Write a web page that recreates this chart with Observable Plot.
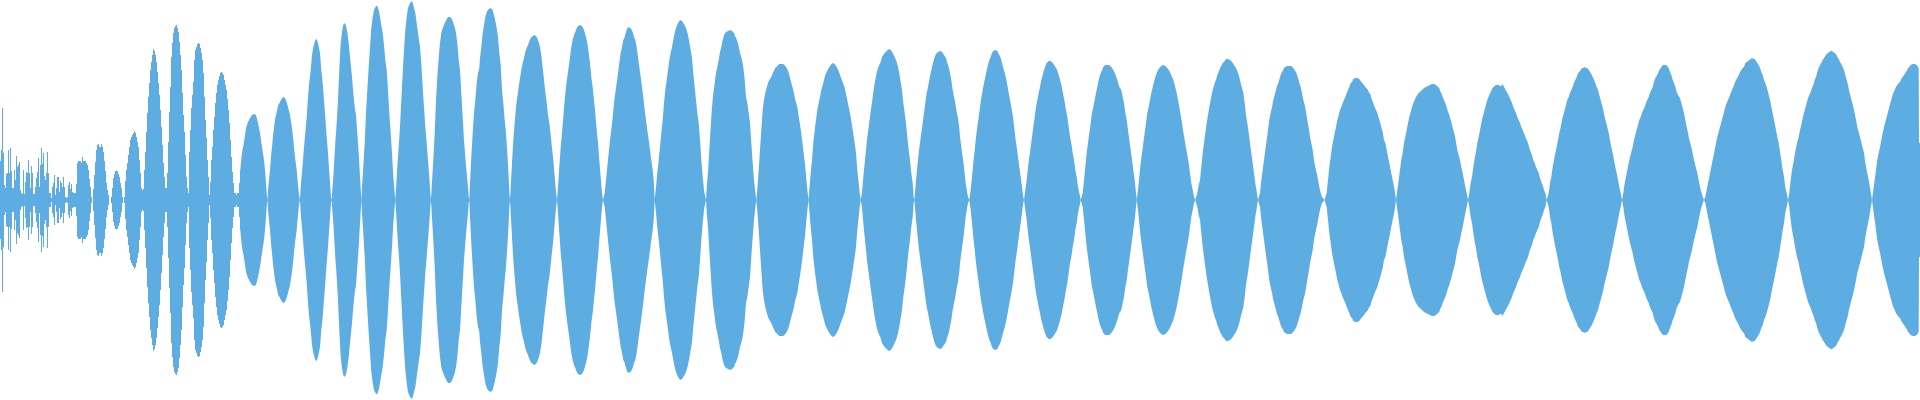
<!DOCTYPE html>
<html><head><meta charset="utf-8">
<script src="https://cdn.jsdelivr.net/npm/d3@7"></script>
<script src="https://cdn.jsdelivr.net/npm/@observablehq/plot@0.6"></script>
<style>html,body{margin:0;padding:0;background:#fff;overflow:hidden}#chart svg{display:block}</style>
</head><body><div id="chart"></div>
<script>
// per-column peak amplitude (units: 1/200 of full scale) for the first 240 samples
const noiseAmp = [
39,50,92,47,15,12,26,27,50,27, 52,29,12,12,30,20,44,33,35,38,
10,7,6,30,6,18,28,27,40,27, 12,34,27,6,6,13,22,28,42,13,
35,52,36,47,24,20,27,48,27,7, 7,2,13,17,25,5,12,23,23,8,
19,17,13,23,13,3,2,3,15,18, 11,16,8,7,7,7,16,37,39,39,
39,37,43,39,39,39,37,35,30,21, 13,3,0,11,25,38,50,55,56,53,
53,56,53,48,39,29,17,10,5,0, 0,3,12,22,26,29,29,29,26,23,
17,12,3,0,3,19,30,37,45,53, 60,63,65,67,69,67,63,58,53,40,
27,12,10,11,30,48,68,87,103,117, 130,138,145,151,149,145,138,128,117,105,
90,73,55,37,23,12,12,27,58,88, 113,143,157,167,172,174,175,172,168,158,
145,130,107,85,68,45,23,12,7,48, 70,92,105,118,140,150,153,156,157,156,
152,147,140,127,103,80,62,40,23,5, 18,40,53,70,83,97,107,115,120,124,
127,128,127,125,120,115,110,101,90,77, 60,43,28,17,7,7,5,7,7,17
];

// envelope of the remaining samples: [sample position, peak amplitude]
const envelope = [
[240,28],[242,47],[244,58],[246,72],[248,78],[250,82],[252,85],[254,86],[256,85],[258,77],[260,67],[262,53],[264,40],[265.3,27],[266.3,13],[267,3],[267.5,0],
[268,10],[269,20],[270,30],[271,43],[272,53],[273.3,67],[275,80],[276.7,88],[278.3,95],[280,98],[282,102],[284,103],[286,100],[288,93],[290,85],[292,72],[293.3,60],[295,43],[296.7,30],[298,15],[299,5],[300,0],
[300.7,13],[302,28],[303,40],[304,53],[305.3,67],[306.7,83],[308,103],[309.3,118],[310.7,130],[312,145],[313.3,153],[315.3,160],[316.7,161],[318,157],[320,147],[321.3,130],[322.7,117],[324,100],[325.3,83],[326.7,63],[328,47],[329.3,27],[330.3,13],[331,3],[331.7,0],
[332.3,10],[333.3,23],[334.3,40],[335.3,57],[336.7,77],[338,100],[339.3,130],[340.7,157],[342,168],[343.3,175],[344.7,177],[346,174],[347.3,168],[348.7,157],[350,143],[352,123],[353.3,107],[354.7,93],[356,85],[357.3,67],[358.7,47],[360,23],[361,7],[361.7,0],
[362,13],[363.3,33],[364.7,57],[366,87],[367.3,110],[368.7,133],[370,153],[371.3,172],[372.7,183],[374,190],[376,194],[377.3,194],[378.7,190],[380,183],[381.3,175],[382.7,167],[384,155],[385.3,140],[386.7,130],[388,110],[389.3,87],[390.7,67],[392,47],[393.3,23],[394.7,7],[395.3,0],
[396,10],[397.3,33],[398.7,53],[400,73],[401.3,100],[402.7,127],[404,150],[405.3,170],[406.7,183],[408,192],[410,197],[412,199],[413.3,195],[415.3,187],[416.7,177],[418,167],[420,153],[421.3,137],[422.7,113],[424,93],[425.3,73],[426.7,57],[428,40],[429.3,23],[430.3,7],[431,0],
[431.7,13],[433.3,40],[434.7,67],[436,100],[437.3,123],[438.7,142],[440,157],[441.3,167],[442.7,172],[444,175],[445.3,178],[446.7,181],[448,183],[450,183],[452,181],[453.3,177],[454.7,173],[456,167],[457.3,157],[458.7,140],[460,130],[461.3,107],[462.7,83],[464,60],[465.3,43],[466.7,27],[468,13],[468.7,3],[469.3,0],
[470,17],[471.3,43],[472.7,67],[474,87],[475.3,100],[476.7,117],[478,127],[479.3,132],[480,142],[481.3,153],[482.7,167],[484,175],[485.3,183],[486.7,188],[488.7,191],[490.7,192],[492.7,190],[494.7,182],[496.7,172],[498,163],[499.3,147],[500.7,135],[502,110],[503.3,97],[504.7,80],[506,67],[507.3,47],[508.7,23],[509.3,7],[510,0],
[510.7,13],[512,37],[513.3,60],[514.7,77],[516,93],[517.3,103],[518.7,113],[520,122],[521.3,130],[522.7,137],[524,142],[525.3,148],[526.7,152],[528.7,157],[530.7,162],[532.7,164],[534.7,165],[536.7,163],[538.7,158],[540,153],[541.3,145],[542.7,133],[544,120],[545.3,108],[546.7,97],[548,85],[549.3,77],[550.7,65],[552,52],[553.3,40],[554.7,23],[556,8],[557,0],
[558,13],[559.3,33],[560.7,53],[562,67],[563.3,83],[564.7,100],[566,113],[567.3,123],[568.7,133],[570,143],[571.3,153],[572.7,160],[574,165],[575.3,168],[576.7,172],[578,174],[580,175],[582,174],[584,170],[586,163],[587.3,157],[588.7,147],[590,137],[591.3,123],[592.7,113],[594,100],[595.3,87],[596.7,70],[598,57],[599.3,40],[600.7,23],[602,7],[603,0],
[604.7,7],[606,20],[607.3,33],[608.7,47],[610,60],[611.3,70],[612.7,83],[614,97],[615.3,107],[616.7,117],[618,127],[619.3,137],[620.7,147],[622,153],[623.3,160],[624.7,163],[626,168],[627.3,172],[628.7,173],[630,172],[631.3,171],[632.7,168],[634,163],[635.3,160],[636.7,153],[638,143],[639.3,133],[640.7,123],[642,113],[643.3,103],[644.7,90],[646,80],[647.3,70],[648.7,60],[650,50],[651.3,40],[652.7,30],[653.7,20],[654.7,0],
[656,13],[657.3,27],[658.7,40],[660,53],[661.3,67],[662.7,80],[664,97],[665.3,110],[666.7,120],[668,130],[669.3,140],[670.7,147],[672,153],[673.3,160],[674.7,167],[676,172],[678,177],[680,180],[682,179],[684,176],[686,172],[688,165],[689.3,158],[690.7,150],[692,142],[693.3,127],[694.7,113],[696,100],[697.3,87],[698.7,77],[700,60],[701.3,40],[702.7,23],[704,10],[705.3,3],[706,0],
[706.7,13],[708,27],[709.3,50],[710.7,73],[712,93],[713.3,107],[714.7,117],[716,127],[717.3,133],[718.7,140],[720,148],[721.3,153],[722.7,160],[724,165],[726,168],[728,169],[730,170],[732,169],[734,167],[736,162],[738,157],[740,147],[742,140],[743.3,133],[744.7,120],[746,103],[747.3,97],[748.7,87],[750,77],[751.3,57],[752.7,37],[754,20],[755.3,8],[756.3,0],
[757.3,10],[758.7,30],[760,50],[761.3,70],[762.7,90],[764,100],[765.3,107],[766.7,112],[768,117],[769.3,120],[770.7,122],[772,125],[773.3,128],[775.3,132],[777.3,134],[779.3,136],[781.3,136],[783.3,136],[785.3,134],[787.3,131],[789.3,125],[791.3,117],[793.3,110],[795.3,100],[797.3,93],[799.3,80],[801.3,67],[803.3,50],[805.3,33],[806.7,17],[807.7,7],[808.7,0],
[809.3,10],[810.7,27],[812,40],[813.3,57],[814.7,70],[816,80],[817.3,90],[818.7,97],[820,103],[821.3,110],[822.7,115],[824,120],[825.3,125],[826.7,128],[828.7,132],[830.7,135],[832.7,137],[834.7,136],[836.7,133],[838.7,129],[840.7,123],[842.7,118],[844.7,112],[846.7,103],[848.7,93],[850.7,83],[852.7,70],[854.7,57],[856,47],[857.3,30],[858.7,17],[859.7,7],[860.7,0],
[862,7],[863.3,23],[864.7,37],[866,50],[867.3,63],[868.7,73],[870,83],[871.3,93],[872.7,103],[874,113],[875.3,120],[876.7,127],[878,132],[879.3,135],[880.7,138],[882,143],[883.3,145],[884.7,147],[886.7,149],[888.7,151],[890.7,150],[892.7,147],[894.7,143],[896.7,138],[898,133],[899.3,127],[900.7,118],[902,110],[903.3,97],[904.7,87],[906,77],[907.3,63],[908.7,50],[910,40],[911.3,27],[912.7,17],[913.7,3],[914.3,0],
[915,7],[916,20],[917.3,33],[918.7,47],[920,57],[921.3,67],[922.7,77],[924,87],[925.3,97],[926.7,107],[928,113],[929.3,120],[930.7,127],[932,133],[933.3,138],[934.7,143],[936,146],[938,148],[940,149],[942,148],[944,145],[946,142],[947.3,137],[948.7,133],[950,127],[951.3,120],[952.7,110],[954,103],[955.3,97],[956.7,88],[958,82],[959.3,72],[960,63],[961.3,53],[962.7,43],[964,33],[965.3,20],[966.7,10],[968,3],[969.3,0],
[970.7,10],[972,23],[973.3,37],[974.7,50],[976,63],[977.3,73],[978.7,83],[980,93],[981.3,102],[982.7,110],[984,117],[985.3,123],[986.7,130],[988,135],[989.3,140],[990.7,143],[992,147],[993.3,149],[995.3,150],[997.3,149],[999.3,145],[1000.7,142],[1002,137],[1003.3,132],[1004.7,127],[1006,122],[1007.3,115],[1008.7,107],[1010,100],[1011.3,93],[1012.7,85],[1014,75],[1015.3,63],[1016.7,53],[1018,43],[1019.3,33],[1020.7,23],[1022,13],[1023.3,3],[1024,0],
[1025.3,10],[1026.7,20],[1028,33],[1029.3,43],[1030.7,53],[1032,63],[1033.3,73],[1034.7,83],[1036,93],[1037.3,100],[1038.7,107],[1040,113],[1041.3,120],[1042.7,125],[1044,130],[1045.3,134],[1046.7,137],[1048.7,139],[1050.7,139],[1052.7,137],[1054.7,134],[1056.7,131],[1058.7,125],[1060.7,118],[1062,112],[1063.3,105],[1064.7,98],[1066,90],[1067.3,83],[1068.7,73],[1070,63],[1071.3,57],[1072.7,47],[1074,40],[1075.3,30],[1076.7,23],[1078,13],[1079.3,7],[1080.7,0],
[1082.7,7],[1084,20],[1085.3,33],[1086.7,47],[1088,57],[1089.3,67],[1090.7,77],[1092,87],[1093.3,93],[1094.7,100],[1096,107],[1097.3,113],[1098.7,120],[1100,125],[1101.3,128],[1103.3,133],[1105.3,135],[1107.3,135],[1109.3,135],[1111.3,133],[1113.3,130],[1115.3,126],[1117.3,120],[1119.3,113],[1121.3,110],[1122.7,103],[1124,97],[1125.3,87],[1126.7,80],[1128,70],[1129.3,60],[1130.7,50],[1132,40],[1133.3,30],[1134.7,20],[1136,7],[1136.7,0],
[1138,10],[1139.3,23],[1140.7,37],[1142,47],[1143.3,57],[1144.7,67],[1146,77],[1147.3,87],[1148.7,93],[1150,100],[1151.3,107],[1152.7,113],[1154,118],[1155.3,123],[1156.7,127],[1158,130],[1159.3,132],[1161.3,134],[1163.3,135],[1165.3,134],[1167.3,132],[1169.3,129],[1171.3,125],[1173.3,120],[1175.3,113],[1176.7,107],[1178,100],[1179.3,93],[1180.7,85],[1182,77],[1183.3,68],[1184.7,60],[1186,52],[1187.3,45],[1188.7,37],[1190,27],[1191.3,17],[1192.7,10],[1194,3],[1195.3,0],
[1197.3,7],[1198.7,15],[1200,20],[1201.3,33],[1202.7,47],[1204,57],[1205.3,67],[1206.7,77],[1208,85],[1209.3,93],[1210.7,100],[1212,107],[1213.3,112],[1214.7,117],[1216,120],[1217.3,125],[1218.7,128],[1220,132],[1221.3,134],[1222.7,137],[1224,138],[1226,141],[1228,141],[1230,140],[1232,138],[1234,135],[1236,132],[1238,127],[1239.3,123],[1240.7,117],[1242,112],[1243.3,107],[1244.7,97],[1246,85],[1247.3,77],[1248.7,67],[1250,57],[1251.3,47],[1252.7,37],[1254,27],[1255.3,17],[1256.7,8],[1258,0],
[1260,7],[1261.3,20],[1262.7,30],[1264,40],[1265.3,50],[1266.7,60],[1268,70],[1269.3,80],[1270.7,87],[1272,93],[1273.3,100],[1274.7,105],[1276,110],[1277.3,115],[1278.7,118],[1280,123],[1281.3,127],[1282.7,129],[1284,132],[1285.3,133],[1287.3,134],[1289.3,134],[1291.3,134],[1293.3,132],[1295.3,129],[1296.7,126],[1298,122],[1299.3,117],[1300.7,113],[1302,107],[1303.3,100],[1304.7,95],[1306,88],[1307.3,80],[1308.7,72],[1310,63],[1311.3,57],[1312.7,50],[1314,40],[1315.3,33],[1316.7,27],[1318,20],[1319.3,13],[1320.7,7],[1322,3],[1324.5,0],
[1326.7,7],[1328,20],[1329.3,33],[1330.7,43],[1332,53],[1333.3,60],[1334.7,67],[1336,73],[1337.3,80],[1338.7,85],[1340,90],[1341.3,93],[1342.7,97],[1344,100],[1345.3,103],[1346.7,107],[1348,110],[1349.3,113],[1350.7,117],[1352,118],[1353.3,121],[1355.3,122],[1357.3,122],[1359.3,121],[1361.3,118],[1363.3,116],[1365.3,113],[1367.3,111],[1369.3,107],[1370.7,105],[1372,100],[1373.3,97],[1374.7,93],[1376,90],[1377.3,87],[1378.7,82],[1380,78],[1381.3,73],[1382.7,68],[1384,60],[1385.3,57],[1386.7,50],[1388,43],[1389.3,37],[1390.7,30],[1392,23],[1393.3,17],[1394.7,10],[1396,0],
[1397.3,10],[1398.7,20],[1400,30],[1401.3,40],[1402.7,47],[1404,57],[1405.3,63],[1406.7,70],[1408,77],[1409.3,83],[1410.7,88],[1412,93],[1413.3,97],[1414.7,100],[1416,103],[1417.3,105],[1418.7,107],[1420,108],[1422,110],[1424,112],[1426,113],[1428,114],[1430,115],[1432,116],[1434,116],[1436,115],[1438,113],[1439.3,112],[1440,109],[1441.3,107],[1442.7,103],[1444,100],[1445.3,97],[1446.7,93],[1448,88],[1449.3,85],[1450.7,80],[1452,75],[1453.3,70],[1454.7,65],[1456,58],[1457.3,50],[1458.7,45],[1460,40],[1461.3,33],[1462.7,27],[1464,20],[1465.3,13],[1466.7,7],[1468,0],
[1469.3,7],[1470.7,17],[1472,23],[1473.3,33],[1474.7,42],[1476,48],[1477.3,57],[1478.7,63],[1480,70],[1481.3,77],[1482.7,83],[1484,88],[1485.3,93],[1486.7,98],[1488,102],[1489.3,105],[1490.7,108],[1492,111],[1493.3,113],[1494.7,114],[1496,115],[1497.3,115],[1498.7,115],[1500,114],[1501.3,114],[1502.7,116],[1504,113],[1505.3,111],[1506.7,108],[1508,106],[1509.3,103],[1510.7,100],[1512,97],[1513.3,93],[1514.7,90],[1516,87],[1517.3,83],[1518.7,80],[1520,77],[1521.3,73],[1522.7,70],[1524,67],[1525.3,63],[1526.7,60],[1528,57],[1529.3,52],[1530.7,48],[1532,45],[1533.3,40],[1534.7,37],[1536,33],[1537.3,30],[1538.7,27],[1540,22],[1541.3,18],[1542.7,15],[1544,10],[1545.3,7],[1546.7,0],
[1548.7,7],[1550,17],[1551.3,23],[1552.7,33],[1554,40],[1555.3,47],[1556.7,53],[1558,60],[1559.3,67],[1560.7,73],[1562,80],[1563.3,85],[1564.7,90],[1566,95],[1567.3,100],[1568.7,103],[1570,107],[1571.3,110],[1572.7,113],[1574,117],[1575.3,120],[1576.7,123],[1578,127],[1579.3,128],[1580.7,130],[1582,132],[1583.3,132],[1584.7,133],[1586,132],[1587.3,132],[1588.7,130],[1590,128],[1591.3,126],[1592.7,123],[1594,120],[1595.3,117],[1596.7,113],[1598,110],[1599.3,105],[1600.7,100],[1602,95],[1603.3,90],[1604.7,83],[1606,78],[1607.3,73],[1608.7,67],[1610,60],[1611.3,53],[1612.7,47],[1614,40],[1615.3,33],[1616.7,27],[1618,20],[1619.3,13],[1620.7,7],[1622,0],
[1623.3,7],[1624.7,17],[1626,23],[1627.3,30],[1628.7,37],[1630,43],[1631.3,48],[1632.7,53],[1634,60],[1635.3,65],[1636.7,70],[1638,75],[1639.3,80],[1640.7,83],[1642,87],[1643.3,90],[1644.7,93],[1646,97],[1647.3,100],[1648.7,103],[1650,107],[1651.3,110],[1652.7,113],[1654,118],[1655.3,122],[1656.7,124],[1658,127],[1659.3,130],[1660.7,132],[1662,134],[1663.3,135],[1664.7,135],[1666,135],[1667.3,134],[1668.7,132],[1670,128],[1671.3,125],[1672.7,120],[1674,117],[1675.3,113],[1676.7,108],[1678,105],[1679.3,103],[1680,102],[1681.3,97],[1682.7,92],[1684,87],[1685.3,80],[1686.7,73],[1688,67],[1689.3,60],[1690.7,55],[1692,50],[1693.3,43],[1694.7,37],[1696,32],[1697.3,27],[1698.7,20],[1700,13],[1701.3,8],[1702.7,3],[1704,0],
[1705.3,3],[1706.7,10],[1708,17],[1709.3,23],[1710.7,30],[1712,37],[1713.3,43],[1714.7,50],[1716,57],[1717.3,63],[1718.7,68],[1720,73],[1721.3,78],[1722.7,83],[1724,88],[1725.3,93],[1726.7,97],[1728,100],[1729.3,103],[1730.7,107],[1732,110],[1733.3,113],[1734.7,117],[1736,120],[1737.3,122],[1738.7,125],[1740,128],[1741.3,130],[1742.7,132],[1744,133],[1745.3,137],[1746.7,138],[1748,139],[1749.3,140],[1750.7,141],[1752,142],[1753.3,141],[1754.7,141],[1756,139],[1757.3,137],[1758.7,135],[1760,132],[1761.3,128],[1762.7,125],[1764,120],[1765.3,117],[1766.7,113],[1768,108],[1769.3,103],[1770.7,97],[1772,90],[1773.3,83],[1774.7,77],[1776,70],[1777.3,63],[1778.7,57],[1780,48],[1781.3,40],[1782.7,30],[1784,23],[1785.3,13],[1786.7,7],[1788,0],
[1789.3,7],[1790.7,20],[1792,30],[1793.3,37],[1794.7,45],[1796,52],[1797.3,58],[1798.7,63],[1800,70],[1801.3,75],[1802.7,82],[1804,87],[1805.3,92],[1806.7,97],[1808,102],[1809.3,105],[1810.7,108],[1812,112],[1813.3,115],[1814.7,120],[1816,123],[1817.3,128],[1818.7,132],[1820,135],[1821.3,137],[1822.7,140],[1824,142],[1825.3,144],[1826.7,146],[1828,147],[1829.3,148],[1830.7,149],[1832,149],[1833.3,148],[1834.7,147],[1836,146],[1837.3,143],[1838.7,141],[1840,138],[1841.3,136],[1842.7,133],[1844,130],[1845.3,125],[1846.7,120],[1848,115],[1849.3,108],[1850.7,103],[1852,98],[1853.3,93],[1854.7,87],[1856,80],[1857.3,73],[1858.7,68],[1860,63],[1861.3,58],[1862.7,52],[1864,47],[1865.3,37],[1866.7,30],[1868,23],[1869.3,17],[1870.7,8],[1872,0],
[1873.3,10],[1874.7,20],[1876,30],[1877.3,40],[1878.7,47],[1880,53],[1881.3,60],[1882.7,67],[1884,73],[1885.3,78],[1886.7,83],[1888,88],[1889.3,93],[1890.7,98],[1892,103],[1893.3,107],[1894.7,110],[1896,113],[1897.3,115],[1898.7,117],[1900,118],[1901.3,121],[1902.7,123],[1904,125],[1905.3,127],[1906.7,129],[1908,132],[1909.3,133],[1910.7,135],[1912.7,136],[1914.7,136],[1916.7,135],[1918,133],[1918.7,132],[1919,57],[1920,57]
];

const waveColor = "#5dade2";
const noiseRows = noiseAmp.map((a, i) => ({x1: i, x2: i + 1, a}));
const envRows = envelope.map(([x, a]) => ({x, a}));

const chart = Plot.plot({
  width: 1920,
  height: 400,
  margin: 0,
  style: {background: "#fff"},
  x: {domain: [0, 1920], axis: null},
  y: {domain: [-200, 200], axis: null},
  marks: [
    Plot.rect(noiseRows, {x1: "x1", x2: "x2", y1: d => -d.a, y2: d => d.a, fill: waveColor}),
    Plot.areaY(envRows, {x: "x", y1: d => -d.a, y2: d => d.a, fill: waveColor, curve: "linear"})
  ]
});
document.getElementById("chart").appendChild(chart);
</script>
</body></html>
